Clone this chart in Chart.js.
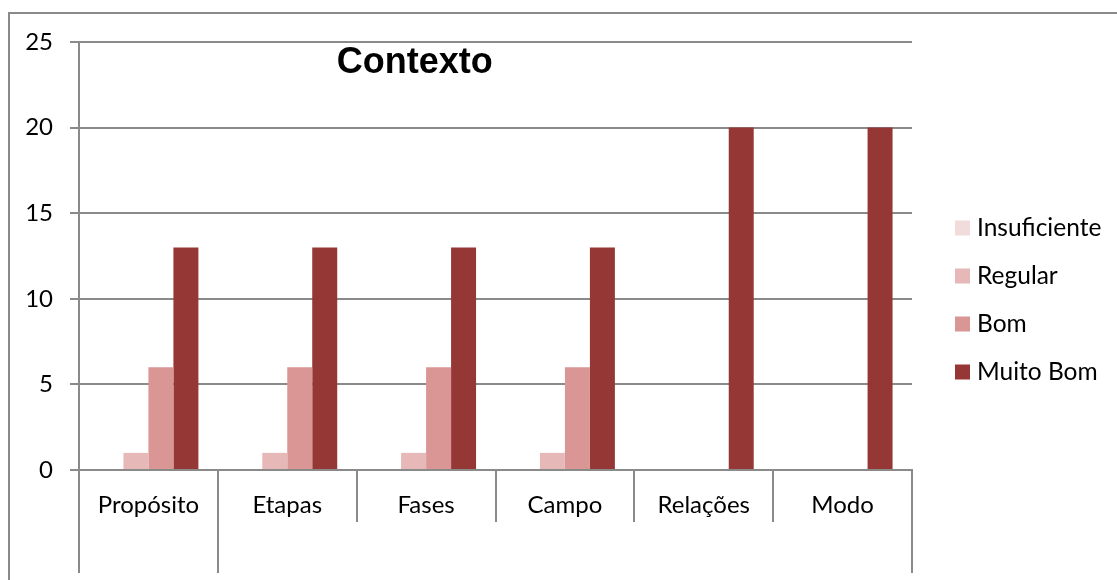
<!DOCTYPE html>
<html>
<head>
<meta charset="utf-8">
<script src="https://cdn.jsdelivr.net/npm/chart.js@4/dist/chart.umd.min.js"></script>
<style>
  html, body { margin: 0; padding: 0; background: #fff; }
  #wrap { width: 1117px; height: 580px; position: relative; }
</style>
</head>
<body>
<div id="wrap"><canvas id="c"></canvas></div>
<script>
// Evaluation of "Contexto" criteria, count of ratings per level
const categories = ['Propósito', 'Etapas', 'Fases', 'Campo', 'Relações', 'Modo'];
const seriesNames = ['Insuficiente', 'Regular', 'Bom', 'Muito Bom'];
const insuficiente = [0, 0, 0, 0, 0, 0];
const regular = [1, 1, 1, 1, 0, 0];
const bom = [6, 6, 6, 6, 0, 0];
const muitoBom = [13, 13, 13, 13, 20, 20];
const yTicks = [0, 5, 10, 15, 20, 25];
const chartTitle = 'Contexto';

const seriesColors = ['#F2DCDB', '#E6B9B8', '#D99694', '#953735'];
const lineColor = '#8a8a8a';
const labelFont = 'Lato';

const seriesValues = [insuficiente, regular, bom, muitoBom];

// Frame, category separators, title and legend drawn on the canvas
const decorations = {
  id: 'decorations',
  beforeDraw(chart) {
    const ctx = chart.ctx;
    ctx.save();
    ctx.strokeStyle = lineColor;
    ctx.lineWidth = 2;
    ctx.beginPath();
    ctx.moveTo(9, chart.height);
    ctx.lineTo(9, 13);
    ctx.lineTo(chart.width, 13);
    ctx.stroke();
    ctx.restore();
  },
  afterDraw(chart) {
    const ctx = chart.ctx;
    const area = chart.chartArea;
    const x = chart.scales.x;
    const half = (x.getPixelForValue(1) - x.getPixelForValue(0)) / 2;
    ctx.save();
    // Long separators of the category table
    ctx.strokeStyle = lineColor;
    ctx.lineWidth = 2;
    const longLines = [area.left, x.getPixelForValue(0) + half, area.right];
    longLines.forEach(px => {
      ctx.beginPath();
      ctx.moveTo(Math.round(px), area.bottom);
      ctx.lineTo(Math.round(px), area.bottom + 103);
      ctx.stroke();
    });
    // Title
    ctx.fillStyle = '#000';
    ctx.font = 'bold 36px "Liberation Sans", Arial, sans-serif';
    ctx.textAlign = 'center';
    ctx.textBaseline = 'alphabetic';
    ctx.fillText(chartTitle, area.left + area.width * 0.403, 73);
    // Legend
    ctx.font = '24.5px ' + labelFont;
    ctx.textAlign = 'left';
    ctx.textBaseline = 'middle';
    const lx = area.right + 43;
    const ly = 228;
    seriesNames.forEach((name, i) => {
      const cy = ly + i * 48;
      ctx.fillStyle = seriesColors[i];
      ctx.fillRect(lx, cy - 7.5, 15, 15);
      ctx.fillStyle = '#000';
      ctx.fillText(name, lx + 22, cy);
    });
    ctx.restore();
  }
};

new Chart(document.getElementById('c'), {
  type: 'bar',
  data: {
    labels: categories,
    datasets: seriesNames.map((name, i) => ({
      label: name,
      data: seriesValues[i],
      backgroundColor: seriesColors[i],
      borderWidth: 0,
      categoryPercentage: 0.72,
      barPercentage: 1.0
    }))
  },
  options: {
    responsive: true,
    maintainAspectRatio: false,
    animation: false,
    layout: { padding: { top: 42, right: 205, bottom: 0, left: 0 } },
    plugins: {
      legend: { display: false },
      title: { display: false },
      tooltip: { enabled: false }
    },
    scales: {
      x: {
        afterFit(scale) { scale.height = 110; },
        grid: {
          offset: true,
          drawOnChartArea: false,
          color: lineColor,
          lineWidth: 2,
          tickLength: 52
        },
        border: { display: true, color: lineColor, width: 2 },
        ticks: {
          color: '#000',
          font: { family: labelFont, size: 24 },
          padding: -31,
          maxRotation: 0
        }
      },
      y: {
        min: 0,
        max: 25,
        afterFit(scale) { scale.width = 79; },
        afterBuildTicks(scale) { scale.ticks = yTicks.map(v => ({ value: v })); },
        grid: {
          color: lineColor,
          lineWidth: 2,
          tickLength: 9
        },
        border: { display: true, color: lineColor, width: 2 },
        ticks: {
          color: '#000',
          font: { family: labelFont, size: 24 },
          padding: 17
        }
      }
    }
  },
  plugins: [decorations]
});
</script>
</body>
</html>
